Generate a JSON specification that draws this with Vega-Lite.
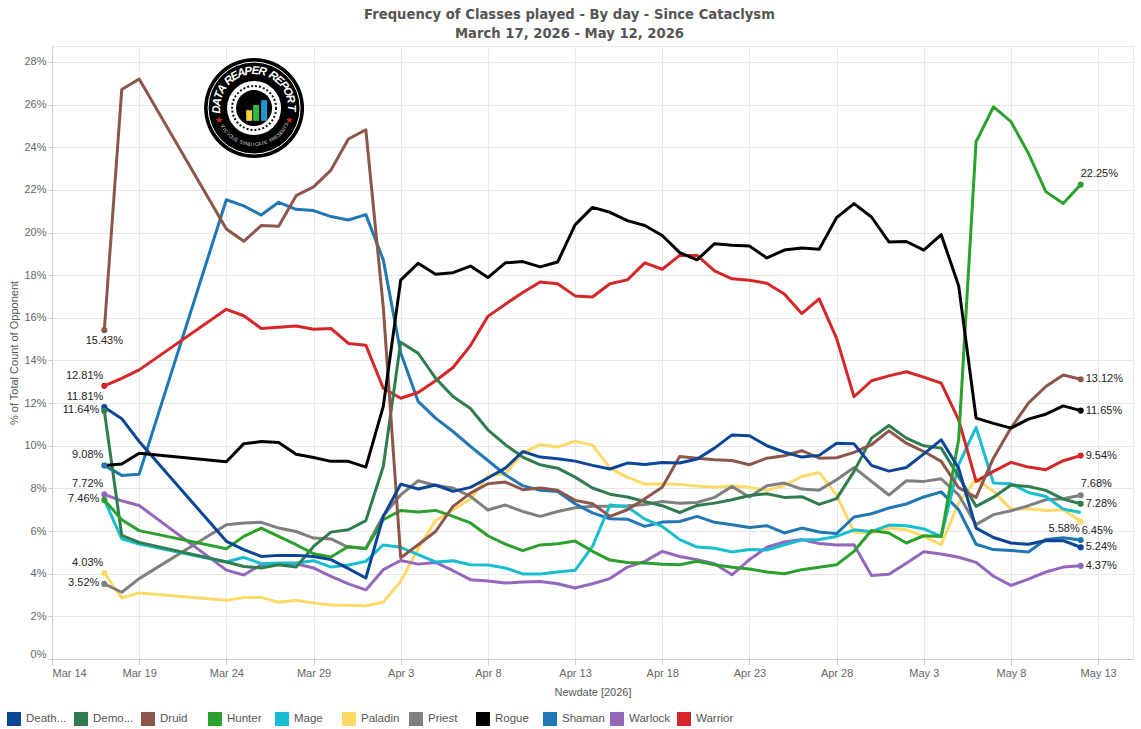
{"$schema":"https://vega.github.io/schema/vega-lite/v6.json","width":1081,"height":613,"autosize":{"type":"none"},"padding":{"left":52,"top":46,"right":8,"bottom":70},"background":"white",
"title":{"text":["Frequency of Classes played - By day - Since Cataclysm","March 17, 2026 - May 12, 2026"],"anchor":"middle","frame":"group","dx":-23,"offset":5,"font":"DejaVu Sans","fontSize":13.2,"fontWeight":"bold","color":"#555555","lineHeight":19},
"config":{"view":{"stroke":"#e8e8e8"},"font":"Liberation Sans"},
"datasets":{"ends":[
{"date":"2026-03-17","class":"Druid","pct":15.43,"label":"15.43%"},{"date":"2026-03-17","class":"Warrior","pct":12.81,"label":"12.81%"},{"date":"2026-03-17","class":"Death","pct":11.81,"label":"11.81%"},{"date":"2026-03-17","class":"Demo","pct":11.64,"label":"11.64%"},{"date":"2026-03-17","class":"Shaman","pct":9.08,"label":"9.08%"},{"date":"2026-03-17","class":"Warlock","pct":7.72,"label":"7.72%"},{"date":"2026-03-17","class":"Hunter","pct":7.46,"label":"7.46%"},{"date":"2026-03-17","class":"Paladin","pct":4.03,"label":"4.03%"},{"date":"2026-03-17","class":"Priest","pct":3.52,"label":"3.52%"},
{"date":"2026-05-12","class":"Hunter","pct":22.25,"label":"22.25%"},{"date":"2026-05-12","class":"Druid","pct":13.12,"label":"13.12%"},{"date":"2026-05-12","class":"Rogue","pct":11.65,"label":"11.65%"},{"date":"2026-05-12","class":"Warrior","pct":9.54,"label":"9.54%"},{"date":"2026-05-12","class":"Priest","pct":7.68,"label":"7.68%"},{"date":"2026-05-12","class":"Demo","pct":7.28,"label":"7.28%"},{"date":"2026-05-12","class":"Paladin","pct":6.45,"label":"6.45%"},{"date":"2026-05-12","class":"Shaman","pct":5.58,"label":"5.58%"},{"date":"2026-05-12","class":"Death","pct":5.24,"label":"5.24%"},{"date":"2026-05-12","class":"Warlock","pct":4.37,"label":"4.37%"}],
"logo":[{"date":"2026-03-25T14:10:00Z","pct":25.84}],
"logoLetters":[{"t":"D","b":-92},{"t":"A","b":-81},{"t":"T","b":-70},{"t":"A","b":-59},{"t":"R","b":-42},{"t":"E","b":-31},{"t":"A","b":-20},{"t":"P","b":-9},{"t":"E","b":2},{"t":"R","b":13},{"t":"R","b":31},{"t":"E","b":42},{"t":"P","b":53},{"t":"O","b":64},{"t":"R","b":76},{"t":"T","b":90}],
"logoSmall":[{"t":"V","b":240},{"t":"I","b":235},{"t":"C","b":230},{"t":"I","b":225},{"t":"O","b":220},{"t":"U","b":215},{"t":"S","b":210},{"t":"S","b":201},{"t":"Y","b":196},{"t":"N","b":191},{"t":"D","b":186},{"t":"I","b":181},{"t":"C","b":176},{"t":"A","b":171},{"t":"T","b":166},{"t":"E","b":161},{"t":"P","b":152},{"t":"R","b":147},{"t":"E","b":142},{"t":"S","b":137},{"t":"E","b":132},{"t":"N","b":127},{"t":"T","b":122},{"t":"S","b":117}],
"logoStars":[{"t":"★","b":-109},{"t":"★","b":109}]},
"data":{"values":[
{"date":"2026-03-17","class":"Paladin","pct":4.03},{"date":"2026-03-18","class":"Paladin","pct":2.86},{"date":"2026-03-19","class":"Paladin","pct":3.1},{"date":"2026-03-24","class":"Paladin","pct":2.75},{"date":"2026-03-25","class":"Paladin","pct":2.88},{"date":"2026-03-26","class":"Paladin","pct":2.89},{"date":"2026-03-27","class":"Paladin","pct":2.66},{"date":"2026-03-28","class":"Paladin","pct":2.75},{"date":"2026-03-29","class":"Paladin","pct":2.63},{"date":"2026-03-30","class":"Paladin","pct":2.53},{"date":"2026-03-31","class":"Paladin","pct":2.52},{"date":"2026-04-01","class":"Paladin","pct":2.49},{"date":"2026-04-02","class":"Paladin","pct":2.67},{"date":"2026-04-03","class":"Paladin","pct":3.64},{"date":"2026-04-04","class":"Paladin","pct":5.17},{"date":"2026-04-05","class":"Paladin","pct":6.5},{"date":"2026-04-06","class":"Paladin","pct":7.0},{"date":"2026-04-07","class":"Paladin","pct":7.5},{"date":"2026-04-08","class":"Paladin","pct":8.59},{"date":"2026-04-09","class":"Paladin","pct":8.69},{"date":"2026-04-10","class":"Paladin","pct":9.66},{"date":"2026-04-11","class":"Paladin","pct":10.05},{"date":"2026-04-12","class":"Paladin","pct":9.94},{"date":"2026-04-13","class":"Paladin","pct":10.22},{"date":"2026-04-14","class":"Paladin","pct":10.03},{"date":"2026-04-15","class":"Paladin","pct":8.95},{"date":"2026-04-16","class":"Paladin","pct":8.52},{"date":"2026-04-17","class":"Paladin","pct":8.2},{"date":"2026-04-18","class":"Paladin","pct":8.22},{"date":"2026-04-19","class":"Paladin","pct":8.19},{"date":"2026-04-20","class":"Paladin","pct":8.11},{"date":"2026-04-21","class":"Paladin","pct":8.05},{"date":"2026-04-22","class":"Paladin","pct":8.11},{"date":"2026-04-23","class":"Paladin","pct":8.05},{"date":"2026-04-24","class":"Paladin","pct":7.91},{"date":"2026-04-25","class":"Paladin","pct":8.14},{"date":"2026-04-26","class":"Paladin","pct":8.56},{"date":"2026-04-27","class":"Paladin","pct":8.75},{"date":"2026-04-28","class":"Paladin","pct":7.7},{"date":"2026-04-29","class":"Paladin","pct":5.94},{"date":"2026-04-30","class":"Paladin","pct":5.91},{"date":"2026-05-01","class":"Paladin","pct":6.14},{"date":"2026-05-02","class":"Paladin","pct":6.06},{"date":"2026-05-03","class":"Paladin","pct":5.75},{"date":"2026-05-04","class":"Paladin","pct":5.36},{"date":"2026-05-05","class":"Paladin","pct":7.31},{"date":"2026-05-06","class":"Paladin","pct":8.45},{"date":"2026-05-07","class":"Paladin","pct":7.86},{"date":"2026-05-08","class":"Paladin","pct":7.03},{"date":"2026-05-09","class":"Paladin","pct":7.05},{"date":"2026-05-10","class":"Paladin","pct":6.97},{"date":"2026-05-11","class":"Paladin","pct":7.0},{"date":"2026-05-12","class":"Paladin","pct":6.45},
{"date":"2026-03-17","class":"Priest","pct":3.52},{"date":"2026-03-18","class":"Priest","pct":3.13},{"date":"2026-03-19","class":"Priest","pct":3.77},{"date":"2026-03-24","class":"Priest","pct":6.3},{"date":"2026-03-25","class":"Priest","pct":6.38},{"date":"2026-03-26","class":"Priest","pct":6.41},{"date":"2026-03-27","class":"Priest","pct":6.14},{"date":"2026-03-28","class":"Priest","pct":5.98},{"date":"2026-03-29","class":"Priest","pct":5.67},{"date":"2026-03-30","class":"Priest","pct":5.63},{"date":"2026-03-31","class":"Priest","pct":5.24},{"date":"2026-04-01","class":"Priest","pct":5.2},{"date":"2026-04-02","class":"Priest","pct":6.72},{"date":"2026-04-03","class":"Priest","pct":7.7},{"date":"2026-04-04","class":"Priest","pct":8.36},{"date":"2026-04-05","class":"Priest","pct":8.14},{"date":"2026-04-06","class":"Priest","pct":8.02},{"date":"2026-04-07","class":"Priest","pct":7.63},{"date":"2026-04-08","class":"Priest","pct":6.99},{"date":"2026-04-09","class":"Priest","pct":7.22},{"date":"2026-04-10","class":"Priest","pct":6.92},{"date":"2026-04-11","class":"Priest","pct":6.69},{"date":"2026-04-12","class":"Priest","pct":6.92},{"date":"2026-04-13","class":"Priest","pct":7.09},{"date":"2026-04-14","class":"Priest","pct":7.16},{"date":"2026-04-15","class":"Priest","pct":7.16},{"date":"2026-04-16","class":"Priest","pct":7.19},{"date":"2026-04-17","class":"Priest","pct":7.25},{"date":"2026-04-18","class":"Priest","pct":7.39},{"date":"2026-04-19","class":"Priest","pct":7.3},{"date":"2026-04-20","class":"Priest","pct":7.34},{"date":"2026-04-21","class":"Priest","pct":7.58},{"date":"2026-04-22","class":"Priest","pct":8.09},{"date":"2026-04-23","class":"Priest","pct":7.6},{"date":"2026-04-24","class":"Priest","pct":8.13},{"date":"2026-04-25","class":"Priest","pct":8.25},{"date":"2026-04-26","class":"Priest","pct":7.97},{"date":"2026-04-27","class":"Priest","pct":7.92},{"date":"2026-04-28","class":"Priest","pct":8.41},{"date":"2026-04-29","class":"Priest","pct":8.98},{"date":"2026-04-30","class":"Priest","pct":8.33},{"date":"2026-05-01","class":"Priest","pct":7.69},{"date":"2026-05-02","class":"Priest","pct":8.36},{"date":"2026-05-03","class":"Priest","pct":8.33},{"date":"2026-05-04","class":"Priest","pct":8.45},{"date":"2026-05-05","class":"Priest","pct":7.7},{"date":"2026-05-06","class":"Priest","pct":6.3},{"date":"2026-05-07","class":"Priest","pct":6.77},{"date":"2026-05-08","class":"Priest","pct":6.95},{"date":"2026-05-09","class":"Priest","pct":7.19},{"date":"2026-05-10","class":"Priest","pct":7.47},{"date":"2026-05-11","class":"Priest","pct":7.52},{"date":"2026-05-12","class":"Priest","pct":7.68},
{"date":"2026-03-17","class":"Shaman","pct":9.08},{"date":"2026-03-18","class":"Shaman","pct":8.61},{"date":"2026-03-19","class":"Shaman","pct":8.67},{"date":"2026-03-24","class":"Shaman","pct":21.54},{"date":"2026-03-25","class":"Shaman","pct":21.25},{"date":"2026-03-26","class":"Shaman","pct":20.82},{"date":"2026-03-27","class":"Shaman","pct":21.42},{"date":"2026-03-28","class":"Shaman","pct":21.09},{"date":"2026-03-29","class":"Shaman","pct":21.03},{"date":"2026-03-30","class":"Shaman","pct":20.75},{"date":"2026-03-31","class":"Shaman","pct":20.59},{"date":"2026-04-01","class":"Shaman","pct":20.84},{"date":"2026-04-02","class":"Shaman","pct":18.72},{"date":"2026-04-03","class":"Shaman","pct":14.36},{"date":"2026-04-04","class":"Shaman","pct":12.08},{"date":"2026-04-05","class":"Shaman","pct":11.3},{"date":"2026-04-06","class":"Shaman","pct":10.67},{"date":"2026-04-07","class":"Shaman","pct":9.97},{"date":"2026-04-08","class":"Shaman","pct":9.31},{"date":"2026-04-09","class":"Shaman","pct":8.64},{"date":"2026-04-10","class":"Shaman","pct":8.13},{"date":"2026-04-11","class":"Shaman","pct":7.91},{"date":"2026-04-12","class":"Shaman","pct":7.86},{"date":"2026-04-13","class":"Shaman","pct":7.28},{"date":"2026-04-14","class":"Shaman","pct":6.85},{"date":"2026-04-15","class":"Shaman","pct":6.58},{"date":"2026-04-16","class":"Shaman","pct":6.56},{"date":"2026-04-17","class":"Shaman","pct":6.22},{"date":"2026-04-18","class":"Shaman","pct":6.42},{"date":"2026-04-19","class":"Shaman","pct":6.45},{"date":"2026-04-20","class":"Shaman","pct":6.69},{"date":"2026-04-21","class":"Shaman","pct":6.41},{"date":"2026-04-22","class":"Shaman","pct":6.3},{"date":"2026-04-23","class":"Shaman","pct":6.17},{"date":"2026-04-24","class":"Shaman","pct":6.25},{"date":"2026-04-25","class":"Shaman","pct":5.91},{"date":"2026-04-26","class":"Shaman","pct":6.14},{"date":"2026-04-27","class":"Shaman","pct":5.96},{"date":"2026-04-28","class":"Shaman","pct":5.88},{"date":"2026-04-29","class":"Shaman","pct":6.66},{"date":"2026-04-30","class":"Shaman","pct":6.81},{"date":"2026-05-01","class":"Shaman","pct":7.08},{"date":"2026-05-02","class":"Shaman","pct":7.27},{"date":"2026-05-03","class":"Shaman","pct":7.6},{"date":"2026-05-04","class":"Shaman","pct":7.84},{"date":"2026-05-05","class":"Shaman","pct":7.0},{"date":"2026-05-06","class":"Shaman","pct":5.38},{"date":"2026-05-07","class":"Shaman","pct":5.13},{"date":"2026-05-08","class":"Shaman","pct":5.09},{"date":"2026-05-09","class":"Shaman","pct":5.02},{"date":"2026-05-10","class":"Shaman","pct":5.6},{"date":"2026-05-11","class":"Shaman","pct":5.69},{"date":"2026-05-12","class":"Shaman","pct":5.58},
{"date":"2026-03-17","class":"Warlock","pct":7.72},{"date":"2026-03-18","class":"Warlock","pct":7.42},{"date":"2026-03-19","class":"Warlock","pct":7.2},{"date":"2026-03-24","class":"Warlock","pct":4.17},{"date":"2026-03-25","class":"Warlock","pct":3.94},{"date":"2026-03-26","class":"Warlock","pct":4.42},{"date":"2026-03-27","class":"Warlock","pct":4.47},{"date":"2026-03-28","class":"Warlock","pct":4.47},{"date":"2026-03-29","class":"Warlock","pct":4.27},{"date":"2026-03-30","class":"Warlock","pct":3.88},{"date":"2026-03-31","class":"Warlock","pct":3.52},{"date":"2026-04-01","class":"Warlock","pct":3.24},{"date":"2026-04-02","class":"Warlock","pct":4.19},{"date":"2026-04-03","class":"Warlock","pct":4.62},{"date":"2026-04-04","class":"Warlock","pct":4.45},{"date":"2026-04-05","class":"Warlock","pct":4.53},{"date":"2026-04-06","class":"Warlock","pct":4.14},{"date":"2026-04-07","class":"Warlock","pct":3.72},{"date":"2026-04-08","class":"Warlock","pct":3.66},{"date":"2026-04-09","class":"Warlock","pct":3.56},{"date":"2026-04-10","class":"Warlock","pct":3.61},{"date":"2026-04-11","class":"Warlock","pct":3.64},{"date":"2026-04-12","class":"Warlock","pct":3.53},{"date":"2026-04-13","class":"Warlock","pct":3.33},{"date":"2026-04-14","class":"Warlock","pct":3.53},{"date":"2026-04-15","class":"Warlock","pct":3.77},{"date":"2026-04-16","class":"Warlock","pct":4.31},{"date":"2026-04-17","class":"Warlock","pct":4.58},{"date":"2026-04-18","class":"Warlock","pct":5.05},{"date":"2026-04-19","class":"Warlock","pct":4.81},{"date":"2026-04-20","class":"Warlock","pct":4.66},{"date":"2026-04-21","class":"Warlock","pct":4.47},{"date":"2026-04-22","class":"Warlock","pct":3.95},{"date":"2026-04-23","class":"Warlock","pct":4.66},{"date":"2026-04-24","class":"Warlock","pct":5.24},{"date":"2026-04-25","class":"Warlock","pct":5.49},{"date":"2026-04-26","class":"Warlock","pct":5.6},{"date":"2026-04-27","class":"Warlock","pct":5.42},{"date":"2026-04-28","class":"Warlock","pct":5.35},{"date":"2026-04-29","class":"Warlock","pct":5.36},{"date":"2026-04-30","class":"Warlock","pct":3.92},{"date":"2026-05-01","class":"Warlock","pct":3.97},{"date":"2026-05-02","class":"Warlock","pct":4.49},{"date":"2026-05-03","class":"Warlock","pct":5.03},{"date":"2026-05-04","class":"Warlock","pct":4.92},{"date":"2026-05-05","class":"Warlock","pct":4.77},{"date":"2026-05-06","class":"Warlock","pct":4.53},{"date":"2026-05-07","class":"Warlock","pct":3.88},{"date":"2026-05-08","class":"Warlock","pct":3.45},{"date":"2026-05-09","class":"Warlock","pct":3.75},{"date":"2026-05-10","class":"Warlock","pct":4.08},{"date":"2026-05-11","class":"Warlock","pct":4.31},{"date":"2026-05-12","class":"Warlock","pct":4.37},
{"date":"2026-03-17","class":"Mage","pct":7.46},{"date":"2026-03-18","class":"Mage","pct":5.64},{"date":"2026-03-19","class":"Mage","pct":5.39},{"date":"2026-03-24","class":"Mage","pct":4.55},{"date":"2026-03-25","class":"Mage","pct":4.77},{"date":"2026-03-26","class":"Mage","pct":4.47},{"date":"2026-03-27","class":"Mage","pct":4.5},{"date":"2026-03-28","class":"Mage","pct":4.5},{"date":"2026-03-29","class":"Mage","pct":4.61},{"date":"2026-03-30","class":"Mage","pct":4.31},{"date":"2026-03-31","class":"Mage","pct":4.41},{"date":"2026-04-01","class":"Mage","pct":4.58},{"date":"2026-04-02","class":"Mage","pct":5.35},{"date":"2026-04-03","class":"Mage","pct":5.24},{"date":"2026-04-04","class":"Mage","pct":4.89},{"date":"2026-04-05","class":"Mage","pct":4.55},{"date":"2026-04-06","class":"Mage","pct":4.61},{"date":"2026-04-07","class":"Mage","pct":4.42},{"date":"2026-04-08","class":"Mage","pct":4.41},{"date":"2026-04-09","class":"Mage","pct":4.27},{"date":"2026-04-10","class":"Mage","pct":3.99},{"date":"2026-04-11","class":"Mage","pct":3.99},{"date":"2026-04-12","class":"Mage","pct":4.08},{"date":"2026-04-13","class":"Mage","pct":4.16},{"date":"2026-04-14","class":"Mage","pct":5.28},{"date":"2026-04-15","class":"Mage","pct":7.22},{"date":"2026-04-16","class":"Mage","pct":7.13},{"date":"2026-04-17","class":"Mage","pct":6.56},{"date":"2026-04-18","class":"Mage","pct":6.22},{"date":"2026-04-19","class":"Mage","pct":5.6},{"date":"2026-04-20","class":"Mage","pct":5.25},{"date":"2026-04-21","class":"Mage","pct":5.19},{"date":"2026-04-22","class":"Mage","pct":5.02},{"date":"2026-04-23","class":"Mage","pct":5.14},{"date":"2026-04-24","class":"Mage","pct":5.11},{"date":"2026-04-25","class":"Mage","pct":5.36},{"date":"2026-04-26","class":"Mage","pct":5.58},{"date":"2026-04-27","class":"Mage","pct":5.6},{"date":"2026-04-28","class":"Mage","pct":5.75},{"date":"2026-04-29","class":"Mage","pct":6.06},{"date":"2026-04-30","class":"Mage","pct":5.97},{"date":"2026-05-01","class":"Mage","pct":6.28},{"date":"2026-05-02","class":"Mage","pct":6.25},{"date":"2026-05-03","class":"Mage","pct":6.1},{"date":"2026-05-04","class":"Mage","pct":5.75},{"date":"2026-05-05","class":"Mage","pct":9.11},{"date":"2026-05-06","class":"Mage","pct":10.86},{"date":"2026-05-07","class":"Mage","pct":8.25},{"date":"2026-05-08","class":"Mage","pct":8.22},{"date":"2026-05-09","class":"Mage","pct":7.81},{"date":"2026-05-10","class":"Mage","pct":7.62},{"date":"2026-05-11","class":"Mage","pct":7.03},{"date":"2026-05-12","class":"Mage","pct":6.87},
{"date":"2026-03-17","class":"Warrior","pct":12.81},{"date":"2026-03-18","class":"Warrior","pct":13.16},{"date":"2026-03-19","class":"Warrior","pct":13.56},{"date":"2026-03-24","class":"Warrior","pct":16.4},{"date":"2026-03-25","class":"Warrior","pct":16.1},{"date":"2026-03-26","class":"Warrior","pct":15.5},{"date":"2026-03-27","class":"Warrior","pct":15.56},{"date":"2026-03-28","class":"Warrior","pct":15.62},{"date":"2026-03-29","class":"Warrior","pct":15.47},{"date":"2026-03-30","class":"Warrior","pct":15.5},{"date":"2026-03-31","class":"Warrior","pct":14.8},{"date":"2026-04-01","class":"Warrior","pct":14.72},{"date":"2026-04-02","class":"Warrior","pct":12.7},{"date":"2026-04-03","class":"Warrior","pct":12.23},{"date":"2026-04-04","class":"Warrior","pct":12.5},{"date":"2026-04-05","class":"Warrior","pct":13.05},{"date":"2026-04-06","class":"Warrior","pct":13.67},{"date":"2026-04-07","class":"Warrior","pct":14.7},{"date":"2026-04-08","class":"Warrior","pct":16.07},{"date":"2026-04-09","class":"Warrior","pct":16.64},{"date":"2026-04-10","class":"Warrior","pct":17.19},{"date":"2026-04-11","class":"Warrior","pct":17.68},{"date":"2026-04-12","class":"Warrior","pct":17.6},{"date":"2026-04-13","class":"Warrior","pct":17.03},{"date":"2026-04-14","class":"Warrior","pct":16.98},{"date":"2026-04-15","class":"Warrior","pct":17.6},{"date":"2026-04-16","class":"Warrior","pct":17.78},{"date":"2026-04-17","class":"Warrior","pct":18.58},{"date":"2026-04-18","class":"Warrior","pct":18.28},{"date":"2026-04-19","class":"Warrior","pct":18.93},{"date":"2026-04-20","class":"Warrior","pct":18.93},{"date":"2026-04-21","class":"Warrior","pct":18.2},{"date":"2026-04-22","class":"Warrior","pct":17.83},{"date":"2026-04-23","class":"Warrior","pct":17.76},{"date":"2026-04-24","class":"Warrior","pct":17.62},{"date":"2026-04-25","class":"Warrior","pct":17.12},{"date":"2026-04-26","class":"Warrior","pct":16.2},{"date":"2026-04-27","class":"Warrior","pct":16.89},{"date":"2026-04-28","class":"Warrior","pct":15.04},{"date":"2026-04-29","class":"Warrior","pct":12.3},{"date":"2026-04-30","class":"Warrior","pct":13.05},{"date":"2026-05-01","class":"Warrior","pct":13.28},{"date":"2026-05-02","class":"Warrior","pct":13.47},{"date":"2026-05-03","class":"Warrior","pct":13.22},{"date":"2026-05-04","class":"Warrior","pct":12.94},{"date":"2026-05-05","class":"Warrior","pct":11.22},{"date":"2026-05-06","class":"Warrior","pct":8.33},{"date":"2026-05-07","class":"Warrior","pct":8.8},{"date":"2026-05-08","class":"Warrior","pct":9.22},{"date":"2026-05-09","class":"Warrior","pct":9.0},{"date":"2026-05-10","class":"Warrior","pct":8.88},{"date":"2026-05-11","class":"Warrior","pct":9.3},{"date":"2026-05-12","class":"Warrior","pct":9.54},
{"date":"2026-03-17","class":"Demo","pct":11.64},{"date":"2026-03-18","class":"Demo","pct":5.8},{"date":"2026-03-19","class":"Demo","pct":5.47},{"date":"2026-03-24","class":"Demo","pct":4.55},{"date":"2026-03-25","class":"Demo","pct":4.34},{"date":"2026-03-26","class":"Demo","pct":4.27},{"date":"2026-03-27","class":"Demo","pct":4.42},{"date":"2026-03-28","class":"Demo","pct":4.31},{"date":"2026-03-29","class":"Demo","pct":5.28},{"date":"2026-03-30","class":"Demo","pct":5.95},{"date":"2026-03-31","class":"Demo","pct":6.06},{"date":"2026-04-01","class":"Demo","pct":6.49},{"date":"2026-04-02","class":"Demo","pct":9.03},{"date":"2026-04-03","class":"Demo","pct":14.86},{"date":"2026-04-04","class":"Demo","pct":14.34},{"date":"2026-04-05","class":"Demo","pct":13.17},{"date":"2026-04-06","class":"Demo","pct":12.31},{"date":"2026-04-07","class":"Demo","pct":11.75},{"date":"2026-04-08","class":"Demo","pct":10.75},{"date":"2026-04-09","class":"Demo","pct":10.05},{"date":"2026-04-10","class":"Demo","pct":9.47},{"date":"2026-04-11","class":"Demo","pct":9.11},{"date":"2026-04-12","class":"Demo","pct":8.95},{"date":"2026-04-13","class":"Demo","pct":8.53},{"date":"2026-04-14","class":"Demo","pct":8.02},{"date":"2026-04-15","class":"Demo","pct":7.73},{"date":"2026-04-16","class":"Demo","pct":7.6},{"date":"2026-04-17","class":"Demo","pct":7.39},{"date":"2026-04-18","class":"Demo","pct":7.19},{"date":"2026-04-19","class":"Demo","pct":6.87},{"date":"2026-04-20","class":"Demo","pct":7.2},{"date":"2026-04-21","class":"Demo","pct":7.31},{"date":"2026-04-22","class":"Demo","pct":7.47},{"date":"2026-04-23","class":"Demo","pct":7.67},{"date":"2026-04-24","class":"Demo","pct":7.75},{"date":"2026-04-25","class":"Demo","pct":7.58},{"date":"2026-04-26","class":"Demo","pct":7.61},{"date":"2026-04-27","class":"Demo","pct":7.25},{"date":"2026-04-28","class":"Demo","pct":7.52},{"date":"2026-04-29","class":"Demo","pct":8.8},{"date":"2026-04-30","class":"Demo","pct":10.36},{"date":"2026-05-01","class":"Demo","pct":10.95},{"date":"2026-05-02","class":"Demo","pct":10.36},{"date":"2026-05-03","class":"Demo","pct":10.0},{"date":"2026-05-04","class":"Demo","pct":9.89},{"date":"2026-05-05","class":"Demo","pct":8.56},{"date":"2026-05-06","class":"Demo","pct":7.16},{"date":"2026-05-07","class":"Demo","pct":7.59},{"date":"2026-05-08","class":"Demo","pct":8.16},{"date":"2026-05-09","class":"Demo","pct":8.09},{"date":"2026-05-10","class":"Demo","pct":7.91},{"date":"2026-05-11","class":"Demo","pct":7.5},{"date":"2026-05-12","class":"Demo","pct":7.28},
{"date":"2026-03-17","class":"Hunter","pct":7.46},{"date":"2026-03-18","class":"Hunter","pct":6.53},{"date":"2026-03-19","class":"Hunter","pct":6.02},{"date":"2026-03-24","class":"Hunter","pct":5.17},{"date":"2026-03-25","class":"Hunter","pct":5.75},{"date":"2026-03-26","class":"Hunter","pct":6.14},{"date":"2026-03-27","class":"Hunter","pct":5.75},{"date":"2026-03-28","class":"Hunter","pct":5.36},{"date":"2026-03-29","class":"Hunter","pct":4.94},{"date":"2026-03-30","class":"Hunter","pct":4.78},{"date":"2026-03-31","class":"Hunter","pct":5.28},{"date":"2026-04-01","class":"Hunter","pct":5.17},{"date":"2026-04-02","class":"Hunter","pct":6.53},{"date":"2026-04-03","class":"Hunter","pct":6.97},{"date":"2026-04-04","class":"Hunter","pct":6.89},{"date":"2026-04-05","class":"Hunter","pct":6.97},{"date":"2026-04-06","class":"Hunter","pct":6.69},{"date":"2026-04-07","class":"Hunter","pct":6.38},{"date":"2026-04-08","class":"Hunter","pct":5.78},{"date":"2026-04-09","class":"Hunter","pct":5.39},{"date":"2026-04-10","class":"Hunter","pct":5.08},{"date":"2026-04-11","class":"Hunter","pct":5.35},{"date":"2026-04-12","class":"Hunter","pct":5.41},{"date":"2026-04-13","class":"Hunter","pct":5.53},{"date":"2026-04-14","class":"Hunter","pct":5.05},{"date":"2026-04-15","class":"Hunter","pct":4.64},{"date":"2026-04-16","class":"Hunter","pct":4.53},{"date":"2026-04-17","class":"Hunter","pct":4.5},{"date":"2026-04-18","class":"Hunter","pct":4.44},{"date":"2026-04-19","class":"Hunter","pct":4.42},{"date":"2026-04-20","class":"Hunter","pct":4.58},{"date":"2026-04-21","class":"Hunter","pct":4.42},{"date":"2026-04-22","class":"Hunter","pct":4.3},{"date":"2026-04-23","class":"Hunter","pct":4.22},{"date":"2026-04-24","class":"Hunter","pct":4.08},{"date":"2026-04-25","class":"Hunter","pct":4.0},{"date":"2026-04-26","class":"Hunter","pct":4.19},{"date":"2026-04-27","class":"Hunter","pct":4.3},{"date":"2026-04-28","class":"Hunter","pct":4.42},{"date":"2026-04-29","class":"Hunter","pct":5.05},{"date":"2026-04-30","class":"Hunter","pct":6.03},{"date":"2026-05-01","class":"Hunter","pct":5.91},{"date":"2026-05-02","class":"Hunter","pct":5.44},{"date":"2026-05-03","class":"Hunter","pct":5.78},{"date":"2026-05-04","class":"Hunter","pct":5.75},{"date":"2026-05-05","class":"Hunter","pct":10.28},{"date":"2026-05-06","class":"Hunter","pct":24.26},{"date":"2026-05-07","class":"Hunter","pct":25.9},{"date":"2026-05-08","class":"Hunter","pct":25.2},{"date":"2026-05-09","class":"Hunter","pct":23.72},{"date":"2026-05-10","class":"Hunter","pct":21.92},{"date":"2026-05-11","class":"Hunter","pct":21.36},{"date":"2026-05-12","class":"Hunter","pct":22.25},
{"date":"2026-03-17","class":"Druid","pct":15.43},{"date":"2026-03-18","class":"Druid","pct":26.71},{"date":"2026-03-19","class":"Druid","pct":27.2},{"date":"2026-03-24","class":"Druid","pct":20.17},{"date":"2026-03-25","class":"Druid","pct":19.59},{"date":"2026-03-26","class":"Druid","pct":20.33},{"date":"2026-03-27","class":"Druid","pct":20.3},{"date":"2026-03-28","class":"Druid","pct":21.73},{"date":"2026-03-29","class":"Druid","pct":22.14},{"date":"2026-03-30","class":"Druid","pct":22.93},{"date":"2026-03-31","class":"Druid","pct":24.39},{"date":"2026-04-01","class":"Druid","pct":24.82},{"date":"2026-04-02","class":"Druid","pct":16.5},{"date":"2026-04-03","class":"Druid","pct":4.75},{"date":"2026-04-04","class":"Druid","pct":5.36},{"date":"2026-04-05","class":"Druid","pct":5.98},{"date":"2026-04-06","class":"Druid","pct":7.16},{"date":"2026-04-07","class":"Druid","pct":7.78},{"date":"2026-04-08","class":"Druid","pct":8.22},{"date":"2026-04-09","class":"Druid","pct":8.3},{"date":"2026-04-10","class":"Druid","pct":7.94},{"date":"2026-04-11","class":"Druid","pct":8.02},{"date":"2026-04-12","class":"Druid","pct":7.91},{"date":"2026-04-13","class":"Druid","pct":7.44},{"date":"2026-04-14","class":"Druid","pct":7.28},{"date":"2026-04-15","class":"Druid","pct":6.69},{"date":"2026-04-16","class":"Druid","pct":7.0},{"date":"2026-04-17","class":"Druid","pct":7.52},{"date":"2026-04-18","class":"Druid","pct":8.06},{"date":"2026-04-19","class":"Druid","pct":9.5},{"date":"2026-04-20","class":"Druid","pct":9.42},{"date":"2026-04-21","class":"Druid","pct":9.34},{"date":"2026-04-22","class":"Druid","pct":9.31},{"date":"2026-04-23","class":"Druid","pct":9.11},{"date":"2026-04-24","class":"Druid","pct":9.42},{"date":"2026-04-25","class":"Druid","pct":9.53},{"date":"2026-04-26","class":"Druid","pct":9.77},{"date":"2026-04-27","class":"Druid","pct":9.42},{"date":"2026-04-28","class":"Druid","pct":9.44},{"date":"2026-04-29","class":"Druid","pct":9.69},{"date":"2026-04-30","class":"Druid","pct":10.05},{"date":"2026-05-01","class":"Druid","pct":10.7},{"date":"2026-05-02","class":"Druid","pct":10.12},{"date":"2026-05-03","class":"Druid","pct":9.73},{"date":"2026-05-04","class":"Druid","pct":9.27},{"date":"2026-05-05","class":"Druid","pct":8.03},{"date":"2026-05-06","class":"Druid","pct":7.58},{"date":"2026-05-07","class":"Druid","pct":9.43},{"date":"2026-05-08","class":"Druid","pct":10.83},{"date":"2026-05-09","class":"Druid","pct":12.0},{"date":"2026-05-10","class":"Druid","pct":12.78},{"date":"2026-05-11","class":"Druid","pct":13.32},{"date":"2026-05-12","class":"Druid","pct":13.12},
{"date":"2026-03-17","class":"Death","pct":11.81},{"date":"2026-03-18","class":"Death","pct":11.27},{"date":"2026-03-19","class":"Death","pct":10.2},{"date":"2026-03-24","class":"Death","pct":5.52},{"date":"2026-03-25","class":"Death","pct":5.13},{"date":"2026-03-26","class":"Death","pct":4.81},{"date":"2026-03-27","class":"Death","pct":4.86},{"date":"2026-03-28","class":"Death","pct":4.86},{"date":"2026-03-29","class":"Death","pct":4.81},{"date":"2026-03-30","class":"Death","pct":4.66},{"date":"2026-03-31","class":"Death","pct":4.24},{"date":"2026-04-01","class":"Death","pct":3.8},{"date":"2026-04-02","class":"Death","pct":6.69},{"date":"2026-04-03","class":"Death","pct":8.2},{"date":"2026-04-04","class":"Death","pct":7.97},{"date":"2026-04-05","class":"Death","pct":8.16},{"date":"2026-04-06","class":"Death","pct":7.86},{"date":"2026-04-07","class":"Death","pct":8.05},{"date":"2026-04-08","class":"Death","pct":8.49},{"date":"2026-04-09","class":"Death","pct":8.95},{"date":"2026-04-10","class":"Death","pct":9.73},{"date":"2026-04-11","class":"Death","pct":9.47},{"date":"2026-04-12","class":"Death","pct":9.39},{"date":"2026-04-13","class":"Death","pct":9.28},{"date":"2026-04-14","class":"Death","pct":9.08},{"date":"2026-04-15","class":"Death","pct":8.91},{"date":"2026-04-16","class":"Death","pct":9.19},{"date":"2026-04-17","class":"Death","pct":9.12},{"date":"2026-04-18","class":"Death","pct":9.22},{"date":"2026-04-19","class":"Death","pct":9.19},{"date":"2026-04-20","class":"Death","pct":9.38},{"date":"2026-04-21","class":"Death","pct":9.89},{"date":"2026-04-22","class":"Death","pct":10.51},{"date":"2026-04-23","class":"Death","pct":10.47},{"date":"2026-04-24","class":"Death","pct":10.0},{"date":"2026-04-25","class":"Death","pct":9.7},{"date":"2026-04-26","class":"Death","pct":9.47},{"date":"2026-04-27","class":"Death","pct":9.55},{"date":"2026-04-28","class":"Death","pct":10.12},{"date":"2026-04-29","class":"Death","pct":10.09},{"date":"2026-04-30","class":"Death","pct":9.08},{"date":"2026-05-01","class":"Death","pct":8.81},{"date":"2026-05-02","class":"Death","pct":8.98},{"date":"2026-05-03","class":"Death","pct":9.62},{"date":"2026-05-04","class":"Death","pct":10.28},{"date":"2026-05-05","class":"Death","pct":8.95},{"date":"2026-05-06","class":"Death","pct":6.14},{"date":"2026-05-07","class":"Death","pct":5.7},{"date":"2026-05-08","class":"Death","pct":5.44},{"date":"2026-05-09","class":"Death","pct":5.38},{"date":"2026-05-10","class":"Death","pct":5.56},{"date":"2026-05-11","class":"Death","pct":5.55},{"date":"2026-05-12","class":"Death","pct":5.24},
{"date":"2026-03-17","class":"Rogue","pct":9.08},{"date":"2026-03-18","class":"Rogue","pct":9.15},{"date":"2026-03-19","class":"Rogue","pct":9.65},{"date":"2026-03-24","class":"Rogue","pct":9.25},{"date":"2026-03-25","class":"Rogue","pct":10.1},{"date":"2026-03-26","class":"Rogue","pct":10.2},{"date":"2026-03-27","class":"Rogue","pct":10.15},{"date":"2026-03-28","class":"Rogue","pct":9.6},{"date":"2026-03-29","class":"Rogue","pct":9.45},{"date":"2026-03-30","class":"Rogue","pct":9.27},{"date":"2026-03-31","class":"Rogue","pct":9.27},{"date":"2026-04-01","class":"Rogue","pct":9.0},{"date":"2026-04-02","class":"Rogue","pct":11.85},{"date":"2026-04-03","class":"Rogue","pct":17.77},{"date":"2026-04-04","class":"Rogue","pct":18.56},{"date":"2026-04-05","class":"Rogue","pct":18.04},{"date":"2026-04-06","class":"Rogue","pct":18.12},{"date":"2026-04-07","class":"Rogue","pct":18.43},{"date":"2026-04-08","class":"Rogue","pct":17.89},{"date":"2026-04-09","class":"Rogue","pct":18.58},{"date":"2026-04-10","class":"Rogue","pct":18.64},{"date":"2026-04-11","class":"Rogue","pct":18.39},{"date":"2026-04-12","class":"Rogue","pct":18.62},{"date":"2026-04-13","class":"Rogue","pct":20.36},{"date":"2026-04-14","class":"Rogue","pct":21.18},{"date":"2026-04-15","class":"Rogue","pct":20.95},{"date":"2026-04-16","class":"Rogue","pct":20.56},{"date":"2026-04-17","class":"Rogue","pct":20.33},{"date":"2026-04-18","class":"Rogue","pct":19.86},{"date":"2026-04-19","class":"Rogue","pct":19.06},{"date":"2026-04-20","class":"Rogue","pct":18.72},{"date":"2026-04-21","class":"Rogue","pct":19.48},{"date":"2026-04-22","class":"Rogue","pct":19.4},{"date":"2026-04-23","class":"Rogue","pct":19.37},{"date":"2026-04-24","class":"Rogue","pct":18.81},{"date":"2026-04-25","class":"Rogue","pct":19.18},{"date":"2026-04-26","class":"Rogue","pct":19.28},{"date":"2026-04-27","class":"Rogue","pct":19.22},{"date":"2026-04-28","class":"Rogue","pct":20.7},{"date":"2026-04-29","class":"Rogue","pct":21.36},{"date":"2026-04-30","class":"Rogue","pct":20.73},{"date":"2026-05-01","class":"Rogue","pct":19.56},{"date":"2026-05-02","class":"Rogue","pct":19.58},{"date":"2026-05-03","class":"Rogue","pct":19.18},{"date":"2026-05-04","class":"Rogue","pct":19.9},{"date":"2026-05-05","class":"Rogue","pct":17.51},{"date":"2026-05-06","class":"Rogue","pct":11.3},{"date":"2026-05-07","class":"Rogue","pct":11.05},{"date":"2026-05-08","class":"Rogue","pct":10.83},{"date":"2026-05-09","class":"Rogue","pct":11.25},{"date":"2026-05-10","class":"Rogue","pct":11.48},{"date":"2026-05-11","class":"Rogue","pct":11.87},{"date":"2026-05-12","class":"Rogue","pct":11.65}
]},
"layer":[
{"mark":{"type":"line","strokeWidth":3,"interpolate":"linear","strokeJoin":"round","clip":true},
"encoding":{"x":{"field":"date","type":"temporal","scale":{"type":"utc","domain":[{"year":2026,"month":3,"date":14,"utc":true},{"year":2026,"month":5,"date":15,"utc":true}],"nice":false},
"axis":{"title":"Newdate [2026]","titleFont":"Liberation Sans","titleFontSize":11,"titleFontWeight":"normal","titleColor":"#555555","titlePadding":8,
"values":[{"year":2026,"month":3,"date":14,"utc":true},{"year":2026,"month":3,"date":19,"utc":true},{"year":2026,"month":3,"date":24,"utc":true},{"year":2026,"month":3,"date":29,"utc":true},{"year":2026,"month":4,"date":3,"utc":true},{"year":2026,"month":4,"date":8,"utc":true},{"year":2026,"month":4,"date":13,"utc":true},{"year":2026,"month":4,"date":18,"utc":true},{"year":2026,"month":4,"date":23,"utc":true},{"year":2026,"month":4,"date":28,"utc":true},{"year":2026,"month":5,"date":3,"utc":true},{"year":2026,"month":5,"date":8,"utc":true},{"year":2026,"month":5,"date":13,"utc":true}],
"labelExpr":"utcFormat(datum.value,'%b %-d')","labelFlush":true,"labelFontSize":11,"labelColor":"#666666","labelFont":"Liberation Sans","labelPadding":2,"labelOverlap":false,"tickColor":"#cccccc","tickSize":6,"domainColor":"#cccccc","gridColor":"#e8e8e8"}},
"y":{"field":"pct","type":"quantitative","scale":{"domain":[0,28.75],"nice":false},
"axis":{"title":"% of Total Count of Opponent","titleFont":"Liberation Sans","titleFontSize":11,"titleFontWeight":"normal","titleColor":"#555555","titlePadding":4,"values":[0,2,4,6,8,10,12,14,16,18,20,22,24,26,28],"labelExpr":"datum.value+'%'","labelFlush":true,"labelFontSize":11,"labelColor":"#666666","labelFont":"Liberation Sans","tickColor":"#cccccc","tickSize":4,"domainColor":"#cccccc","gridColor":"#e8e8e8"}},
"color":{"field":"class","type":"nominal","scale":{"domain":["Death","Demo","Druid","Hunter","Mage","Paladin","Priest","Rogue","Shaman","Warlock","Warrior"],"range":["#0b4596","#2f7d4f","#8c564b","#2ca02c","#17becf","#ffd966","#7f7f7f","#000000","#1f77b4","#9467bd","#d62728"]}},"detail":{"field":"class"}}},
{"data":{"name":"ends"},"mark":{"type":"point","filled":true,"size":38,"opacity":1},
"encoding":{"x":{"field":"date","type":"temporal"},"y":{"field":"pct","type":"quantitative"},
"color":{"field":"class","type":"nominal","legend":{"title":null,"orient":"none","legendX":-45,"legendY":666,"direction":"horizontal","columns":11,"gridAlign":"all","columnPadding":5,"symbolType":"square","symbolSize":196,"symbolStrokeWidth":0,"symbolOpacity":1,"labelFontSize":11.5,"labelColor":"#555555","labelFont":"Liberation Sans","labelOffset":5,"labelExpr":"datum.label=='Death'?'Death...':datum.label=='Demo'?'Demo...':datum.label"}}}},
{"data":{"name":"ends"},"transform":[{"filter":"datum.label=='15.43%'"}],"mark":{"type":"text","fontSize":11,"color":"#222222","align":"center","dx":0,"dy":11},"encoding":{"x":{"field":"date","type":"temporal"},"y":{"field":"pct","type":"quantitative"},"text":{"field":"label"}}},
{"data":{"name":"ends"},"transform":[{"filter":"indexof(['12.81%','11.81%','9.08%','7.72%','4.03%'],datum.label)>=0"}],"mark":{"type":"text","fontSize":11,"color":"#222222","align":"right","dx":-1,"dy":-10},"encoding":{"x":{"field":"date","type":"temporal"},"y":{"field":"pct","type":"quantitative"},"text":{"field":"label"}}},
{"data":{"name":"ends"},"transform":[{"filter":"indexof(['11.64%','7.46%','3.52%'],datum.label)>=0"}],"mark":{"type":"text","fontSize":11,"color":"#222222","align":"right","dx":-5,"dy":-1},"encoding":{"x":{"field":"date","type":"temporal"},"y":{"field":"pct","type":"quantitative"},"text":{"field":"label"}}},
{"data":{"name":"ends"},"transform":[{"filter":"indexof(['22.25%','7.68%'],datum.label)>=0"}],"mark":{"type":"text","fontSize":11,"color":"#222222","align":"left","dx":0,"dy":-11},"encoding":{"x":{"field":"date","type":"temporal"},"y":{"field":"pct","type":"quantitative"},"text":{"field":"label"}}},
{"data":{"name":"ends"},"transform":[{"filter":"indexof(['13.12%','11.65%','9.54%','7.28%','5.24%','4.37%'],datum.label)>=0"}],"mark":{"type":"text","fontSize":11,"color":"#222222","align":"left","dx":5,"dy":0},"encoding":{"x":{"field":"date","type":"temporal"},"y":{"field":"pct","type":"quantitative"},"text":{"field":"label"}}},
{"data":{"name":"ends"},"transform":[{"filter":"datum.label=='6.45%'"}],"mark":{"type":"text","fontSize":11,"color":"#222222","align":"left","dx":1,"dy":10},"encoding":{"x":{"field":"date","type":"temporal"},"y":{"field":"pct","type":"quantitative"},"text":{"field":"label"}}},
{"data":{"name":"ends"},"transform":[{"filter":"datum.label=='5.58%'"}],"mark":{"type":"text","fontSize":11,"color":"#222222","align":"right","dx":-1,"dy":-11},"encoding":{"x":{"field":"date","type":"temporal"},"y":{"field":"pct","type":"quantitative"},"text":{"field":"label"}}},
{"data":{"name":"logo"},"mark":{"type":"point","shape":"circle","filled":true,"size":10000,"color":"#000000","opacity":1},"encoding":{"x":{"field":"date","type":"temporal"},"y":{"field":"pct","type":"quantitative"}}},
{"data":{"name":"logo"},"mark":{"type":"point","shape":"circle","filled":false,"size":8464,"stroke":"#ffffff","strokeWidth":1,"opacity":1},"encoding":{"x":{"field":"date","type":"temporal"},"y":{"field":"pct","type":"quantitative"}}},
{"data":{"name":"logo"},"mark":{"type":"point","shape":"circle","filled":true,"size":2916,"color":"#ffffff","opacity":1},"encoding":{"x":{"field":"date","type":"temporal"},"y":{"field":"pct","type":"quantitative"}}},
{"data":{"name":"logo"},"mark":{"type":"point","shape":"circle","filled":false,"size":1936,"stroke":"#111111","strokeWidth":2,"strokeDash":[2,2],"opacity":1},"encoding":{"x":{"field":"date","type":"temporal"},"y":{"field":"pct","type":"quantitative"}}},
{"data":{"name":"logo"},"mark":{"type":"point","shape":"circle","filled":true,"size":1296,"color":"#000000","opacity":1},"encoding":{"x":{"field":"date","type":"temporal"},"y":{"field":"pct","type":"quantitative"}}},
{"data":{"values":[{"date":"2026-03-25T07:26:00Z","low":25.24,"high":25.74}]},"mark":{"type":"rule","strokeWidth":6,"color":"#f4d03f"},"encoding":{"x":{"field":"date","type":"temporal"},"y":{"field":"low","type":"quantitative"},"y2":{"field":"high"}}},
{"data":{"values":[{"date":"2026-03-25T17:00:00Z","low":25.24,"high":25.98}]},"mark":{"type":"rule","strokeWidth":6,"color":"#2eb84a"},"encoding":{"x":{"field":"date","type":"temporal"},"y":{"field":"low","type":"quantitative"},"y2":{"field":"high"}}},
{"data":{"values":[{"date":"2026-03-26T04:00:00Z","low":25.24,"high":26.21}]},"mark":{"type":"rule","strokeWidth":6,"color":"#2a93d5"},"encoding":{"x":{"field":"date","type":"temporal"},"y":{"field":"low","type":"quantitative"},"y2":{"field":"high"}}},
{"data":{"name":"logoLetters"},"transform":[{"calculate":"utc(2026,2,25,14,10)+sin(datum.b*PI/180)*2.12*86400000","as":"lx"},{"calculate":"25.84+cos(datum.b*PI/180)*1.73","as":"ly"}],"mark":{"type":"text","fontSize":11.5,"fontWeight":"bold","fontStyle":"italic","font":"Liberation Sans","color":"#ffffff","align":"center","baseline":"middle"},"encoding":{"x":{"field":"lx","type":"temporal"},"y":{"field":"ly","type":"quantitative"},"text":{"field":"t"},"angle":{"field":"b","type":"quantitative","scale":null}}},
{"data":{"name":"logoSmall"},"transform":[{"calculate":"utc(2026,2,25,14,10)+sin(datum.b*PI/180)*2.06*86400000","as":"lx"},{"calculate":"25.84+cos(datum.b*PI/180)*1.69","as":"ly"},{"calculate":"datum.b-180","as":"rot"}],"mark":{"type":"text","fontSize":5,"font":"Liberation Sans","color":"#dddddd","align":"center","baseline":"middle"},"encoding":{"x":{"field":"lx","type":"temporal"},"y":{"field":"ly","type":"quantitative"},"text":{"field":"t"},"angle":{"field":"rot","type":"quantitative","scale":null}}},
{"data":{"name":"logoStars"},"transform":[{"calculate":"utc(2026,2,25,14,10)+sin(datum.b*PI/180)*2.12*86400000","as":"lx"},{"calculate":"25.84+cos(datum.b*PI/180)*1.73","as":"ly"}],"mark":{"type":"text","fontSize":9,"font":"DejaVu Sans","color":"#d62728","align":"center","baseline":"middle"},"encoding":{"x":{"field":"lx","type":"temporal"},"y":{"field":"ly","type":"quantitative"},"text":{"field":"t"}}}
]}
